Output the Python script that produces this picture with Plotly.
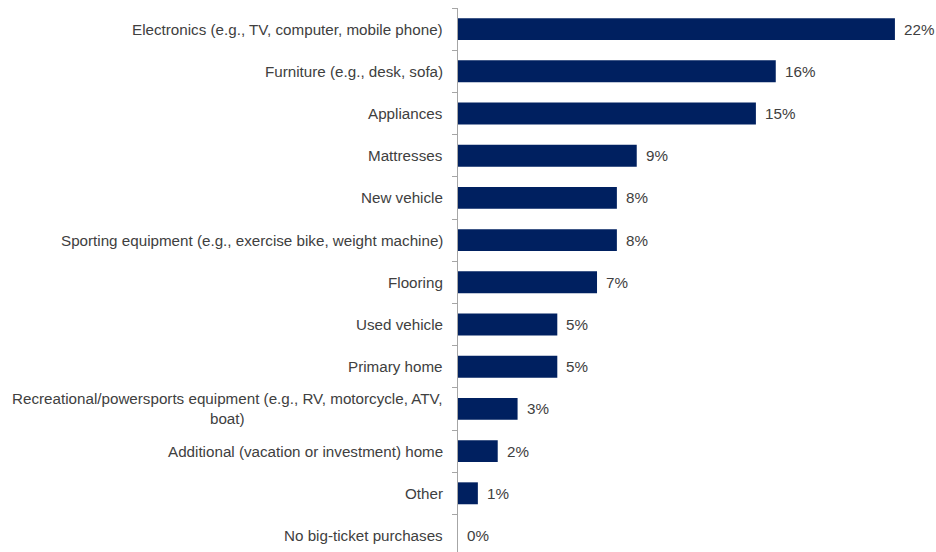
import plotly.graph_objects as go

categories = [
    "Electronics (e.g., TV, computer, mobile phone)",
    "Furniture (e.g., desk, sofa)",
    "Appliances",
    "Mattresses",
    "New vehicle",
    "Sporting equipment (e.g., exercise bike, weight machine)",
    "Flooring",
    "Used vehicle",
    "Primary home",
    "Recreational/powersports equipment (e.g., RV, motorcycle, ATV,<br>boat)",
    "Additional (vacation or investment) home",
    "Other",
    "No big-ticket purchases",
]
values = [22, 16, 15, 9, 8, 8, 7, 5, 5, 3, 2, 1, 0]

BAR = "#002060"
TEXT = "#404040"
AXIS = "#a6a6a6"
FONT = "Liberation Sans, Arial, sans-serif"
FONT_SIZE = 15.2

W, H = 936, 552
LEFT, TOP = 458, 8
PX_PER_PCT = 19.86
ROW = 42.2

plot_w = W - LEFT
plot_h = H - TOP
x_max = plot_w / PX_PER_PCT
y_bottom = -0.5 + plot_h / ROW

fig = go.Figure(
    go.Bar(
        x=values,
        y=categories,
        orientation="h",
        marker=dict(color=BAR, line=dict(width=0)),
        width=0.52,
        hoverinfo="skip",
    )
)

annotations = []
for cat, val in zip(categories, values):
    # category label, lines centered, box right-aligned against the axis
    annotations.append(dict(
        x=0, xref="paper", y=cat, yref="y",
        text=cat, showarrow=False,
        xanchor="right", yanchor="middle", align="center",
        xshift=-13,
        font=dict(family=FONT, size=FONT_SIZE, color=TEXT),
    ))
    # value label just past the bar end
    annotations.append(dict(
        x=val, xref="x", y=cat, yref="y",
        text=f"{val}%", showarrow=False,
        xanchor="left", yanchor="middle",
        xshift=7,
        font=dict(family=FONT, size=FONT_SIZE, color=TEXT),
    ))

fig.update_layout(
    width=W, height=H,
    margin=dict(l=LEFT, r=0, t=TOP, b=0, pad=0),
    paper_bgcolor="white",
    plot_bgcolor="white",
    showlegend=False,
    bargap=0.48,
    annotations=annotations,
    xaxis=dict(
        range=[0, x_max],
        visible=False,
        showgrid=False,
        zeroline=False,
    ),
    yaxis=dict(
        type="category",
        categoryorder="array",
        categoryarray=categories,
        range=[y_bottom, -0.5],
        showticklabels=False,
        showline=True,
        linecolor=AXIS,
        linewidth=1,
        ticks="outside",
        tickson="boundaries",
        ticklen=5,
        tickcolor=AXIS,
        showgrid=False,
        zeroline=False,
    ),
)

fig.write_html("out.html")
